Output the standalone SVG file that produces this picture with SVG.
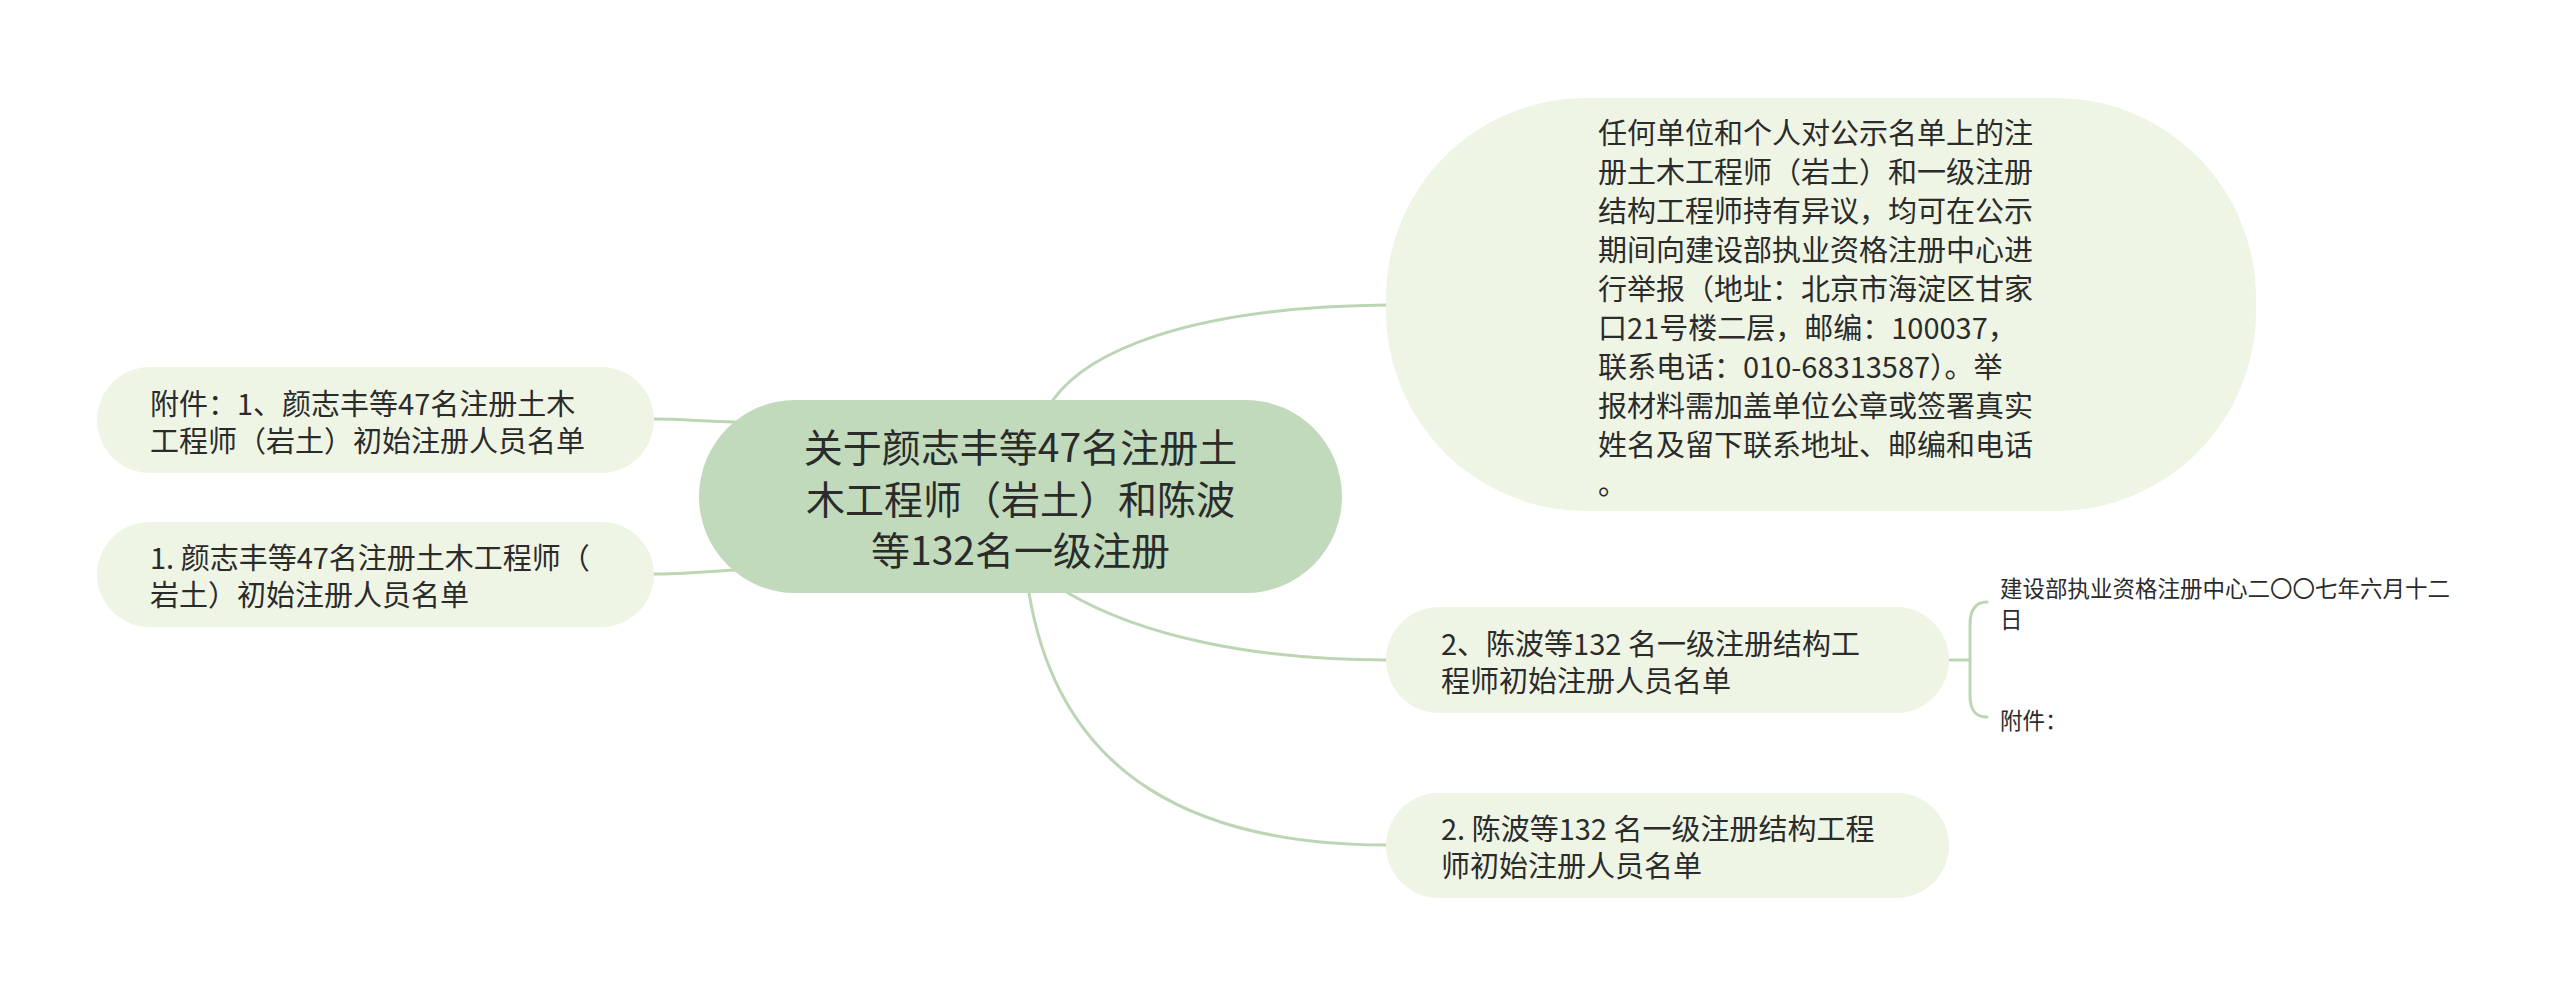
<svg xmlns="http://www.w3.org/2000/svg" width="2560" height="995" viewBox="0 0 2560 995">
<style>
.bg{fill:#ffffff}
.link{fill:none;stroke:#bcd6b5;stroke-width:3;stroke-linecap:round}
.root{fill:#c0dabb}
.sub{fill:#eff5e5}
text{font-family:"Noto Sans CJK SC","Noto Sans",sans-serif;fill:#2b2b2b;dominant-baseline:central}
.t39{font-size:39px}
.t29{font-size:29px}
.t22{font-size:22.5px}
</style>
<rect class="bg" x="0" y="0" width="2560" height="995"/>
<g id="connectors">
<path class="link" d="M735,422 C700,421 680,419 654,419"/>
<path class="link" d="M735,570 C700,572 680,574 654,574"/>
<path class="link" d="M1053,400 C1085,355 1180,307 1387,305"/>
<path class="link" d="M1068,593 C1140,635 1250,660 1387,660"/>
<path class="link" d="M1029,593 C1060,780 1200,845 1387,845"/>
<path class="link" d="M1949,660 L1970,660"/>
<path class="link" d="M1987,602 C1975,602 1970,610 1970,625 L1970,695 C1970,710 1975,717 1987,717"/>
</g>
<g id="node-root">
<rect class="root" x="699" y="400" width="643" height="193" rx="96.5"/>
<text class="t39" x="1020.5" y="445" text-anchor="middle">关于颜志丰等47名注册土</text>
<text class="t39" x="1020.5" y="496.5" text-anchor="middle">木工程师（岩土）和陈波</text>
<text class="t39" x="1020.5" y="548" text-anchor="middle">等132名一级注册</text>
</g>
<g id="node-left1">
<rect class="sub" x="97" y="367" width="557" height="106" rx="53"/>
<text class="t29" x="150" y="401.5">附件：1、颜志丰等47名注册土木</text>
<text class="t29" x="150" y="438.5">工程师（岩土）初始注册人员名单</text>
</g>
<g id="node-left2">
<rect class="sub" x="97" y="522" width="557" height="105" rx="52.5"/>
<text class="t29" x="150" y="556">1. 颜志丰等47名注册土木工程师（</text>
<text class="t29" x="150" y="593">岩土）初始注册人员名单</text>
</g>
<g id="node-notice">
<rect class="sub" x="1386" y="98" width="870" height="413" rx="200"/>
<text class="t29" x="1598" y="131">任何单位和个人对公示名单上的注</text>
<text class="t29" x="1598" y="170">册土木工程师（岩土）和一级注册</text>
<text class="t29" x="1598" y="209">结构工程师持有异议，均可在公示</text>
<text class="t29" x="1598" y="248">期间向建设部执业资格注册中心进</text>
<text class="t29" x="1598" y="287">行举报（地址：北京市海淀区甘家</text>
<text class="t29" x="1598" y="326">口21号楼二层，邮编：100037，</text>
<text class="t29" x="1598" y="365">联系电话：010-68313587）。举</text>
<text class="t29" x="1598" y="404">报材料需加盖单位公章或签署真实</text>
<text class="t29" x="1598" y="443">姓名及留下联系地址、邮编和电话</text>
<text class="t29" x="1598" y="482">。</text>
</g>
<g id="node-list2a">
<rect class="sub" x="1386" y="607" width="563" height="106" rx="53"/>
<text class="t29" x="1441" y="641.5">2、陈波等132 名一级注册结构工</text>
<text class="t29" x="1441" y="678.5">程师初始注册人员名单</text>
</g>
<g id="node-sign">
<text class="t22" x="2000" y="587">建设部执业资格注册中心二〇〇七年六月十二</text>
<text class="t22" x="2000" y="618">日</text>
</g>
<g id="node-attach">
<text class="t22" x="2000" y="719">附件：</text>
</g>
<g id="node-list2b">
<rect class="sub" x="1386" y="793" width="563" height="105" rx="52.5"/>
<text class="t29" x="1441" y="827">2. 陈波等132 名一级注册结构工程</text>
<text class="t29" x="1441" y="864">师初始注册人员名单</text>
</g>
</svg>
